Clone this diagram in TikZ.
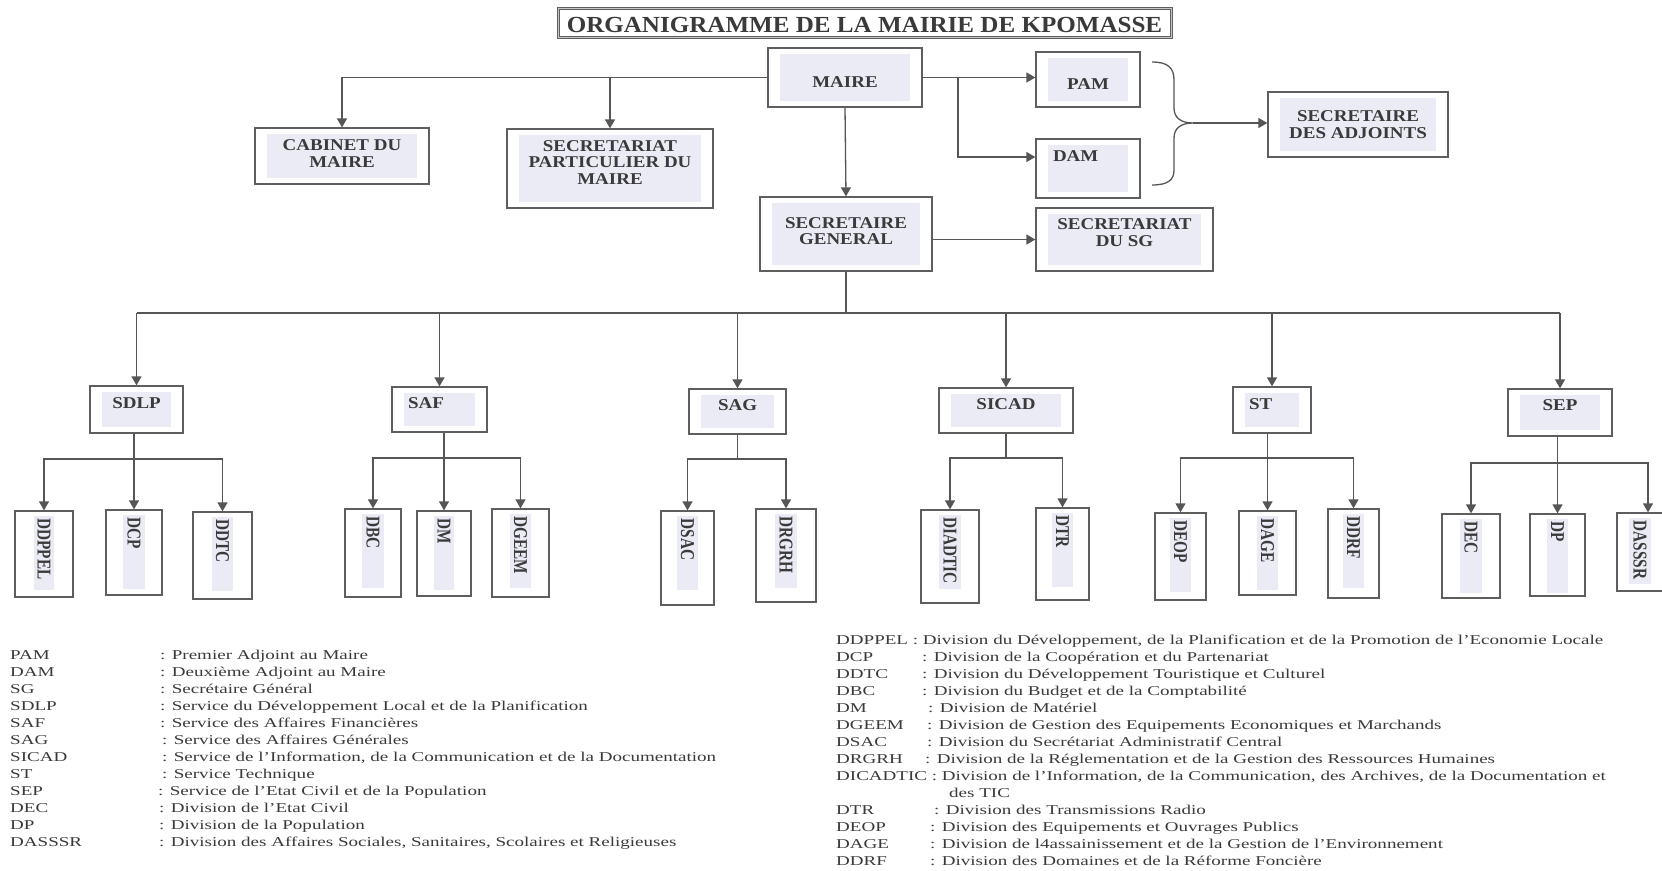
\documentclass[tikz,border=0pt]{standalone}
\usepackage{fontspec}
\setmainfont{Liberation Serif}
\newfontfamily\boxfont{Liberation Serif}[FakeStretch=1.15]
\newfontfamily\titlefont{Liberation Serif}[FakeStretch=1.09]
\newfontfamily\vertfont{Liberation Serif}[FakeStretch=0.78]
\newfontfamily\legfont{Liberation Serif}[FakeStretch=1.41]
\usetikzlibrary{arrows.meta,calc}
\definecolor{edge}{HTML}{5E5E5E}
\definecolor{wire}{HTML}{565656}
\definecolor{ink}{HTML}{3A3A3A}
\definecolor{lav}{HTML}{EBEBF6}
\tikzstyle{unit}=[draw=edge, line width=1.3pt, fill=white, inner sep=0pt, align=center, text=ink,
  font=\boxfont\bfseries\fontsize{16.5}{16.8}\selectfont,
  path picture={\fill[lav] ([shift={(12pt,-6pt)}]path picture bounding box.north west)
    rectangle ([shift={(-12pt,6pt)}]path picture bounding box.south east);}]
\tikzstyle{division}=[draw=edge, line width=1.3pt, fill=white, inner sep=0pt]
\tikzstyle{divlabel}=[rotate=-90, anchor=west, fill=lav, text=ink, inner xsep=3pt, inner ysep=4pt,
  text width=68pt, align=left, font=\vertfont\bfseries\fontsize{19.6}{20}\selectfont]
\tikzstyle{link}=[draw=wire, line width=1.3pt]
\tikzstyle{arrow}=[link, -{Triangle[length=9pt,width=10pt]}]
\tikzstyle{gloss}=[anchor=base west, inner sep=0pt, text=ink, font=\legfont\fontsize{13.5}{17}\selectfont]
\tikzset{lift/.style={text depth=#1}, sink/.style={text height=#1},
  leftset/.style={align=left, inner xsep=16pt, text width=#1}}

\begin{document}
\begin{tikzpicture}[x=1pt,y=-1pt]
  \useasboundingbox (0,0) rectangle (1662,870);
  \fill[white] (0,0) rectangle (1662,870);

  % title
  \node[draw=edge, line width=1.2pt, double=gray!45, double distance=0.6pt, inner sep=0pt,
        minimum width=613pt, minimum height=29pt, text=ink, sink=20pt,
        font=\titlefont\bfseries\fontsize{23}{24}\selectfont] (title) at (864.5,22.5)
        {ORGANIGRAMME DE LA MAIRIE DE KPOMASSE};

  % top level
  \node[unit, minimum width=154pt, minimum height=59pt, sink=20pt] (maire) at (845,77.5) {MAIRE};
  \node[unit, minimum width=174pt, minimum height=56pt, lift=5pt] (cabinet) at (342,156) {CABINET DU\\MAIRE};
  \node[unit, minimum width=206pt, minimum height=79pt, lift=12pt] (spm) at (610,168.5) {SECRETARIAT\\PARTICULIER DU\\MAIRE};
  \node[unit, minimum width=104pt, minimum height=55pt, sink=20pt] (pam) at (1088,79.5) {PAM};
  \node[unit, minimum width=104pt, minimum height=59pt, lift=25pt, leftset=70pt] (dam) at (1088,168.5) {DAM};
  \node[unit, minimum width=180pt, minimum height=65pt, lift=-16pt] (sda) at (1358,124.5) {SECRETAIRE\\DES ADJOINTS};
  \node[unit, minimum width=172pt, minimum height=74pt, lift=6pt] (sg) at (846,234) {SECRETAIRE\\GENERAL};
  \node[unit, minimum width=177pt, minimum height=63pt, lift=14pt] (ssg) at (1124.5,239.5) {SECRETARIAT\\DU SG};

  \draw[arrow] (maire.west) -| (cabinet.north);
  \draw[arrow] (maire.west -| spm.north) -- (spm.north);
  \draw[arrow] (maire.east) -- (maire.east -| pam.west);
  \coordinate (split) at (958,77.5);
  \draw[arrow] (split) |- ([yshift=11.5pt]dam.west);
  \draw[arrow] (maire.south) -- (sg.north);
  \draw[arrow] (ssg.west -| sg.east) -- (ssg.west);

  % brace towards the adjoints' secretary
  \coordinate (btop) at (1152,62);
  \coordinate (bbot) at (1152,185);
  \coordinate (btip) at (1193,123);
  \draw[link] (btop) .. controls (1168,62) and (1174,68) .. (1174,80) -- (1174,108)
    .. controls (1174,117) and (1180,123) .. (btip)
    .. controls (1180,123) and (1174,129) .. (1174,138) -- (1174,170)
    .. controls (1174,180) and (1168,185) .. (bbot);
  \draw[arrow] (btip) -- (btip -| sda.west);

  % services
  \node[unit, minimum width=93pt, minimum height=47pt, lift=13pt] (sdlp) at (136.5,409.5) {SDLP};
  \node[unit, minimum width=95pt, minimum height=45pt, lift=13pt, leftset=63pt] (saf) at (439.5,409.5) {SAF};
  \node[unit, minimum width=97pt, minimum height=45pt, lift=12pt] (sag) at (737.5,411.5) {SAG};
  \node[unit, minimum width=134pt, minimum height=45pt, lift=12pt] (sicad) at (1006,410.5) {SICAD};
  \node[unit, minimum width=78pt, minimum height=46pt, lift=11pt, leftset=46pt] (st) at (1272,410) {ST};
  \node[unit, minimum width=104pt, minimum height=47pt, lift=15pt] (sep) at (1560,412.5) {SEP};

  \coordinate (bus) at (846,313);
  \draw[link] (sg.south) -- (bus);
  \draw[link] (bus -| sdlp.north) -- (bus -| sep.north);
  \draw[arrow] (bus -| sdlp.north) -- (sdlp.north);
  \draw[arrow] (bus -| saf.north) -- (saf.north);
  \draw[arrow] (bus -| sag.north) -- (sag.north);
  \draw[arrow] (bus -| sicad.north) -- (sicad.north);
  \draw[arrow] (bus -| st.north) -- (st.north);
  \draw[arrow] (bus -| sep.north) -- (sep.north);

  % divisions
  \node[division, minimum width=58pt, minimum height=86pt] (ddppel) at (44,554) {};
  \node[division, minimum width=56pt, minimum height=85pt] (dcp) at (134,552.5) {};
  \node[division, minimum width=59pt, minimum height=87pt] (ddtc) at (222.5,555.5) {};
  \node[division, minimum width=56pt, minimum height=88pt] (dbc) at (373,553) {};
  \node[division, minimum width=54pt, minimum height=85pt] (dm) at (444,553.5) {};
  \node[division, minimum width=57pt, minimum height=88pt] (dgeem) at (520.5,553) {};
  \node[division, minimum width=53pt, minimum height=94pt] (dsac) at (687.5,558) {};
  \node[division, minimum width=60pt, minimum height=93pt] (drgrh) at (786,555.5) {};
  \node[division, minimum width=58pt, minimum height=93pt] (diadtic) at (950,556.5) {};
  \node[division, minimum width=53pt, minimum height=92pt] (dtr) at (1062.5,554) {};
  \node[division, minimum width=51pt, minimum height=87pt] (deop) at (1180.5,556.5) {};
  \node[division, minimum width=57pt, minimum height=84pt] (dage) at (1267.5,553) {};
  \node[division, minimum width=51pt, minimum height=89pt] (ddrf) at (1353.5,553.5) {};
  \node[division, minimum width=58pt, minimum height=84pt] (dec) at (1471,556) {};
  \node[division, minimum width=55pt, minimum height=82pt] (dp) at (1557.5,555) {};
  \node[division, minimum width=62pt, minimum height=78pt] (dasssr) at (1648,552) {};

  \node[divlabel] (tddppel) at ([yshift=-5pt]ddppel.north) {DDPPEL};
  \node[divlabel] (tdcp) at ([yshift=-5pt]dcp.north) {DCP};
  \node[divlabel] (tddtc) at ([yshift=-5pt]ddtc.north) {DDTC};
  \node[divlabel] (tdbc) at ([yshift=-5pt]dbc.north) {DBC};
  \node[divlabel] (tdm) at ([yshift=-5pt]dm.north) {DM};
  \node[divlabel] (tdgeem) at ([yshift=-5pt]dgeem.north) {DGEEM};
  \node[divlabel] (tdsac) at ([yshift=-5pt]dsac.north) {DSAC};
  \node[divlabel] (tdrgrh) at ([yshift=-5pt]drgrh.north) {DRGRH};
  \node[divlabel] (tdiadtic) at ([yshift=-5pt]diadtic.north) {DIADTIC};
  \node[divlabel] (tdtr) at ([yshift=-5pt]dtr.north) {DTR};
  \node[divlabel] (tdeop) at ([yshift=-5pt]deop.north) {DEOP};
  \node[divlabel] (tdage) at ([yshift=-5pt]dage.north) {DAGE};
  \node[divlabel] (tddrf) at ([yshift=-5pt]ddrf.north) {DDRF};
  \node[divlabel] (tdec) at ([yshift=-5pt]dec.north) {DEC};
  \node[divlabel] (tdp) at ([yshift=-5pt]dp.north) {DP};
  \node[divlabel, text width=60pt] (tdasssr) at ([xshift=-8pt,yshift=-5pt]dasssr.north) {DASSSR};

  % forks under each service
  \coordinate (fsdlp) at (134,459);
  \draw[link] (sdlp.south -| fsdlp) -- (fsdlp);
  \draw[arrow] (fsdlp) -| (ddppel.north);
  \draw[arrow] (fsdlp) -- (dcp.north);
  \draw[arrow] (fsdlp) -| (ddtc.north);

  \coordinate (fsaf) at (444,458);
  \draw[link] (saf.south -| fsaf) -- (fsaf);
  \draw[arrow] (fsaf) -| (dbc.north);
  \draw[arrow] (fsaf) -- (dm.north);
  \draw[arrow] (fsaf) -| (dgeem.north);

  \coordinate (fsag) at (737.5,459);
  \draw[link] (sag.south) -- (fsag);
  \draw[arrow] (fsag) -| (dsac.north);
  \draw[arrow] (fsag) -| (drgrh.north);

  \coordinate (fsicad) at (1006,458);
  \draw[link] (sicad.south) -- (fsicad);
  \draw[arrow] (fsicad) -| (diadtic.north);
  \draw[arrow] (fsicad) -| (dtr.north);

  \coordinate (fst) at (1267.5,458);
  \draw[link] (st.south -| fst) -- (fst);
  \draw[arrow] (fst) -| (deop.north);
  \draw[arrow] (fst) -- (dage.north);
  \draw[arrow] (fst) -| (ddrf.north);

  \coordinate (fsep) at (1557.5,463);
  \draw[link] (sep.south -| fsep) -- (fsep);
  \draw[arrow] (fsep) -| (dec.north);
  \draw[arrow] (fsep) -- (dp.north);
  \draw[arrow] (fsep) -| (dasssr.north);

  % legend, left column
  \node[gloss] (lpam) at (10,659) {\makebox[150pt][l]{PAM}: Premier Adjoint au Maire};
  \node[gloss] (ldam) at (10,676) {\makebox[150pt][l]{DAM}: Deuxième Adjoint au Maire};
  \node[gloss] (lsg) at (10,693) {\makebox[150pt][l]{SG}: Secrétaire Général};
  \node[gloss] (lsdlp) at (10,710) {\makebox[150pt][l]{SDLP}: Service du Développement Local et de la Planification};
  \node[gloss] (lsaf) at (10,727) {\makebox[150pt][l]{SAF}: Service des Affaires Financières};
  \node[gloss] (lsag) at (10,744) {\makebox[152pt][l]{SAG}: Service des Affaires Générales};
  \node[gloss] (lsicad) at (10,761) {\makebox[152pt][l]{SICAD}: Service de l’Information, de la Communication et de la Documentation};
  \node[gloss] (lst) at (10,778) {\makebox[152pt][l]{ST}: Service Technique};
  \node[gloss] (lsep) at (10,795) {\makebox[148pt][l]{SEP}: Service de l’Etat Civil et de la Population};
  \node[gloss] (ldec) at (10,812) {\makebox[149pt][l]{DEC}: Division de l’Etat Civil};
  \node[gloss] (ldp) at (10,829) {\makebox[149pt][l]{DP}: Division de la Population};
  \node[gloss] (ldasssr) at (10,846) {\makebox[149pt][l]{DASSSR}: Division des Affaires Sociales, Sanitaires, Scolaires et Religieuses};

  % legend, right column
  \node[gloss] (rddppel) at (836,644) {DDPPEL : Division du Développement, de la Planification et de la Promotion de l’Economie Locale};
  \node[gloss] (rdcp) at (836,661) {\makebox[86pt][l]{DCP}: Division de la Coopération et du Partenariat};
  \node[gloss] (rddtc) at (836,678) {\makebox[86pt][l]{DDTC}: Division du Développement Touristique et Culturel};
  \node[gloss] (rdbc) at (836,695) {\makebox[86pt][l]{DBC}: Division du Budget et de la Comptabilité};
  \node[gloss] (rdm) at (836,712) {\makebox[92pt][l]{DM}: Division de Matériel};
  \node[gloss] (rdgeem) at (836,729) {\makebox[91pt][l]{DGEEM}: Division de Gestion des Equipements Economiques et Marchands};
  \node[gloss] (rdsac) at (836,746) {\makebox[91pt][l]{DSAC}: Division du Secrétariat Administratif Central};
  \node[gloss] (rdrgrh) at (836,763) {\makebox[89pt][l]{DRGRH}: Division de la Réglementation et de la Gestion des Ressources Humaines};
  \node[gloss] (rdicadtic) at (836,780) {DICADTIC : Division de l’Information, de la Communication, des Archives, de la Documentation et};
  \node[gloss] (rdestic) at (949,797) {des TIC};
  \node[gloss] (rdtr) at (836,814) {\makebox[98pt][l]{DTR}: Division des Transmissions Radio};
  \node[gloss] (rdeop) at (836,831) {\makebox[94pt][l]{DEOP}: Division des Equipements et Ouvrages Publics};
  \node[gloss] (rdage) at (836,848) {\makebox[94pt][l]{DAGE}: Division de l4assainissement et de la Gestion de l’Environnement};
  \node[gloss] (rddrf) at (836,865) {\makebox[94pt][l]{DDRF}: Division des Domaines et de la Réforme Foncière};
\end{tikzpicture}
\end{document}
